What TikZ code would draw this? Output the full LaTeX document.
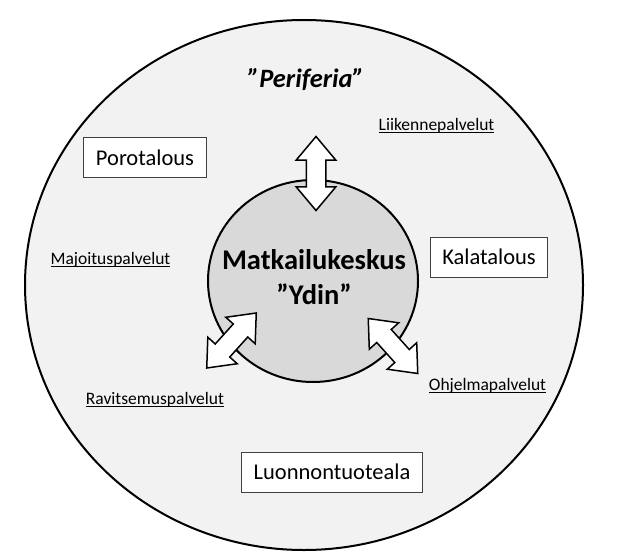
\documentclass[tikz,border=0pt]{standalone}
\usepackage{fontspec}
\setmainfont{Carlito}
\usetikzlibrary{shapes.geometric,shapes.arrows}
\tikzset{
  zone/.style={draw,ellipse,line width=2pt,inner sep=0pt},
  branch/.style={draw=black!75,line width=1pt,fill=white,minimum height=40pt,inner xsep=12pt,font=\fontsize{22.5}{27}\selectfont},
  svc/.style={inner sep=0pt,anchor=base,font=\fontsize{17.5}{21}\selectfont},
  flow/.style={draw,line width=1.5pt,fill=white,double arrow,inner xsep=0pt,inner ysep=9pt,minimum height=74pt,minimum width=38pt,double arrow head extend=10pt,double arrow tip angle=80},
}
\newcommand{\ulbl}[1]{\setbox0=\hbox{#1}\rlap{\rule[-2.5pt]{\wd0}{0.9pt}}\box0}

\begin{document}
\begin{tikzpicture}[x=1pt,y=-1pt]
  \useasboundingbox (0,0) rectangle (623,559);
  % periphery and core
  \node[zone,fill=black!5,minimum width=558pt,minimum height=530pt] (peri) at (304,285) {};
  \node[zone,fill=black!15,minimum width=210pt,minimum height=202pt] (core) at (313,281) {};
  \node[anchor=base,font=\fontsize{26.5}{30}\selectfont\bfseries\itshape] (ptxt) at (306,88) {”Periferia”};
  \node[align=center,font=\fontsize{28.5}{35}\selectfont\bfseries] (ctxt) at (314,277) {Matkailukeskus\\”Ydin”};

  % exchange arrows
  \node[flow,rotate=90] (a1) at (316,173.5) {};
  \node[flow,rotate=48] (a2) at (231.5,340.5) {};
  \node[flow,rotate=-48] (a3) at (393,346) {};

  % sectors
  \node[branch] (poro) at (145,157.5) {Porotalous};
  \node[branch] (kala) at (489,257) {Kalatalous};
  \node[branch] (luon) at (332,472) {Luonnontuoteala};

  % services
  \node[svc] (lii) at (436.5,130) {\ulbl{Liikennepalvelut}};
  \node[svc] (maj) at (110.5,264) {\ulbl{Majoituspalvelut}};
  \node[svc] (rav) at (155,404) {\ulbl{Ravitsemuspalvelut}};
  \node[svc] (ohj) at (487.5,390) {\ulbl{Ohjelmapalvelut}};
\end{tikzpicture}
\end{document}
